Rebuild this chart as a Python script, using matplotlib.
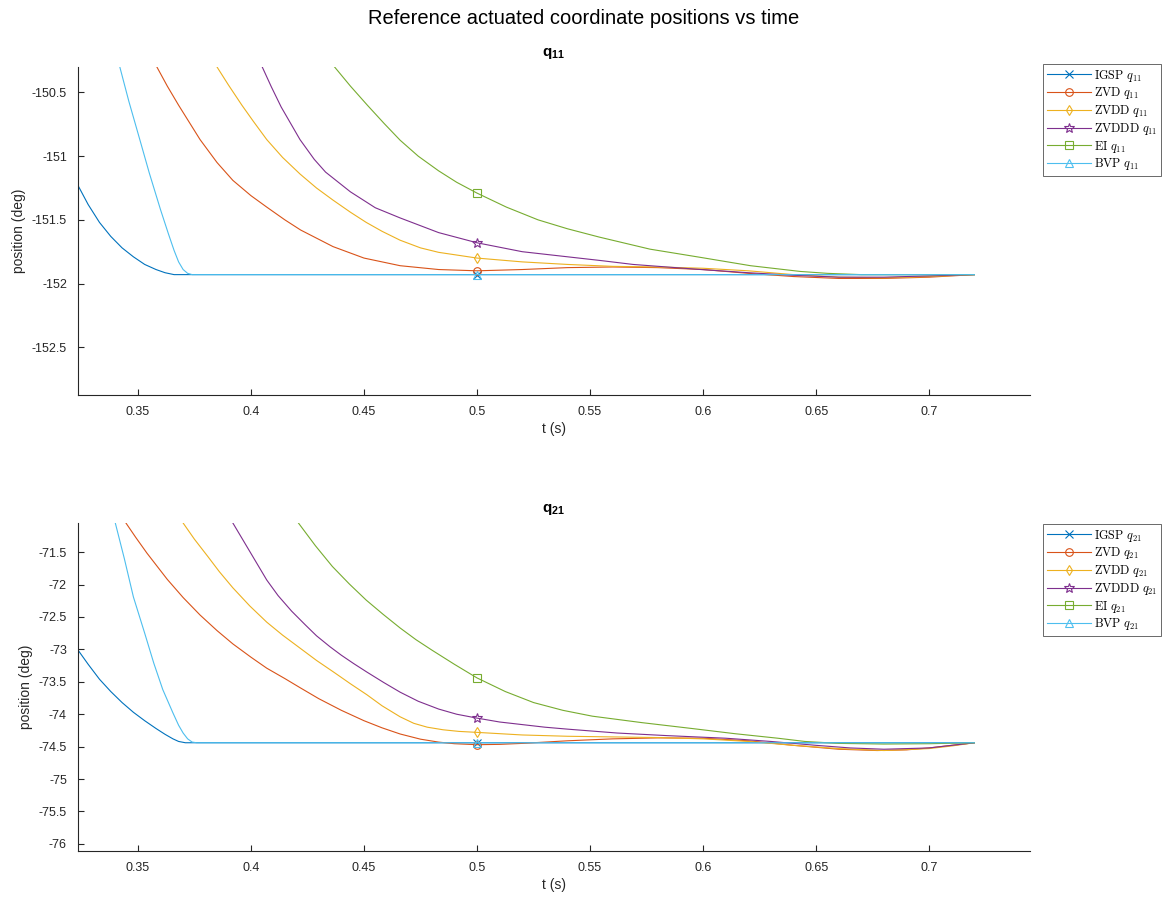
import matplotlib
matplotlib.use("Agg")
import matplotlib.pyplot as plt
from matplotlib.font_manager import FontProperties
from matplotlib.ticker import FormatStrFormatter

plt.rcParams['font.family'] = ['Liberation Sans', 'DejaVu Sans']
plt.rcParams['axes.unicode_minus'] = False
plt.rcParams['mathtext.fontset'] = 'custom'
plt.rcParams['mathtext.rm'] = 'Liberation Sans'
plt.rcParams['mathtext.it'] = 'Liberation Sans:italic'
plt.rcParams['mathtext.bf'] = 'Liberation Sans:bold'

# ---------------- data: q11 (top) ----------------
q11_igsp_t = [0.3235, 0.328, 0.333, 0.338, 0.343, 0.348, 0.353, 0.358, 0.362, 0.366, 0.40, 0.45, 0.50, 0.55, 0.60, 0.65, 0.72]
q11_igsp_y = [-151.23, -151.38, -151.52, -151.63, -151.72, -151.79, -151.85, -151.89, -151.915, -151.93, -151.93, -151.93, -151.93, -151.93, -151.93, -151.93, -151.93]

q11_zvd_t = [0.354, 0.3584, 0.363, 0.368, 0.3775, 0.385, 0.392, 0.40, 0.407, 0.415, 0.422, 0.4363, 0.45, 0.466, 0.483, 0.50, 0.52, 0.54, 0.56, 0.58, 0.60, 0.62, 0.64, 0.66, 0.68, 0.70, 0.72]
q11_zvd_y = [-150.17, -150.30, -150.45, -150.60, -150.87, -151.05, -151.19, -151.31, -151.40, -151.50, -151.58, -151.71, -151.80, -151.86, -151.89, -151.90, -151.89, -151.875, -151.87, -151.875, -151.89, -151.92, -151.945, -151.96, -151.96, -151.95, -151.93]

q11_zvdd_t = [0.381, 0.385, 0.390, 0.396, 0.401, 0.407, 0.414, 0.4217, 0.429, 0.4363, 0.444, 0.451, 0.458, 0.466, 0.475, 0.483, 0.50, 0.52, 0.54, 0.56, 0.58, 0.60, 0.62, 0.64, 0.66, 0.68, 0.70, 0.72]
q11_zvdd_y = [-150.17, -150.30, -150.44, -150.60, -150.725, -150.87, -151.01, -151.14, -151.25, -151.345, -151.44, -151.52, -151.59, -151.66, -151.72, -151.755, -151.80, -151.83, -151.85, -151.865, -151.87, -151.88, -151.90, -151.93, -151.95, -151.955, -151.945, -151.93]

q11_zvddd_t = [0.401, 0.405, 0.409, 0.4134, 0.4217, 0.428, 0.433, 0.444, 0.455, 0.466, 0.483, 0.50, 0.52, 0.54, 0.555, 0.569, 0.584, 0.599, 0.62, 0.64, 0.66, 0.68, 0.70, 0.72]
q11_zvddd_y = [-150.12, -150.30, -150.455, -150.615, -150.87, -151.025, -151.125, -151.28, -151.405, -151.485, -151.60, -151.68, -151.75, -151.79, -151.82, -151.85, -151.87, -151.89, -151.915, -151.935, -151.95, -151.95, -151.94, -151.93]

q11_ei_t = [0.433, 0.437, 0.444, 0.4515, 0.459, 0.466, 0.474, 0.483, 0.491, 0.50, 0.513, 0.527, 0.54, 0.554, 0.5765, 0.599, 0.621, 0.643, 0.655, 0.67, 0.69, 0.72]
q11_ei_y = [-150.21, -150.30, -150.45, -150.60, -150.745, -150.875, -151.00, -151.115, -151.205, -151.29, -151.40, -151.50, -151.57, -151.635, -151.73, -151.795, -151.86, -151.905, -151.92, -151.93, -151.93, -151.93]

q11_bvp_t = [0.340, 0.342, 0.346, 0.351, 0.355, 0.360, 0.3635, 0.366, 0.368, 0.370, 0.372, 0.374, 0.40, 0.45, 0.50, 0.55, 0.60, 0.65, 0.72]
q11_bvp_y = [-150.10, -150.30, -150.57, -150.88, -151.13, -151.42, -151.61, -151.74, -151.83, -151.89, -151.92, -151.93, -151.93, -151.93, -151.93, -151.93, -151.93, -151.93, -151.93]

# ---------------- data: q21 (bottom) ----------------
q21_igsp_t = [0.3235, 0.328, 0.333, 0.338, 0.343, 0.348, 0.353, 0.358, 0.362, 0.3655, 0.368, 0.371, 0.40, 0.45, 0.50, 0.55, 0.60, 0.65, 0.72]
q21_igsp_y = [-73.01, -73.23, -73.46, -73.65, -73.82, -73.97, -74.10, -74.22, -74.31, -74.38, -74.42, -74.44, -74.44, -74.44, -74.44, -74.44, -74.44, -74.44, -74.44]

q21_zvd_t = [0.341, 0.3447, 0.349, 0.354, 0.363, 0.370, 0.3775, 0.385, 0.392, 0.40, 0.407, 0.415, 0.4217, 0.43, 0.44, 0.45, 0.458, 0.466, 0.475, 0.483, 0.49, 0.50, 0.51, 0.52, 0.54, 0.56, 0.58, 0.60, 0.62, 0.64, 0.66, 0.677, 0.69, 0.70, 0.71, 0.72]
q21_zvd_y = [-70.86, -71.05, -71.27, -71.515, -71.92, -72.20, -72.47, -72.71, -72.915, -73.12, -73.29, -73.45, -73.59, -73.76, -73.94, -74.10, -74.21, -74.305, -74.385, -74.43, -74.455, -74.47, -74.465, -74.45, -74.41, -74.38, -74.365, -74.37, -74.41, -74.48, -74.54, -74.56, -74.55, -74.52, -74.48, -74.44]

q21_zvdd_t = [0.366, 0.370, 0.375, 0.381, 0.386, 0.392, 0.3995, 0.407, 0.414, 0.4217, 0.429, 0.437, 0.444, 0.4513, 0.458, 0.466, 0.472, 0.478, 0.485, 0.492, 0.50, 0.52, 0.54, 0.56, 0.58, 0.60, 0.62, 0.64, 0.66, 0.68, 0.70, 0.71, 0.72]
q21_zvdd_y = [-70.86, -71.05, -71.30, -71.57, -71.80, -72.05, -72.33, -72.58, -72.78, -72.98, -73.17, -73.36, -73.53, -73.70, -73.87, -74.04, -74.14, -74.20, -74.24, -74.265, -74.28, -74.32, -74.34, -74.35, -74.36, -74.38, -74.42, -74.48, -74.53, -74.56, -74.53, -74.49, -74.44]

q21_zvddd_t = [0.388, 0.392, 0.3995, 0.407, 0.412, 0.418, 0.424, 0.429, 0.435, 0.44, 0.4455, 0.4513, 0.4587, 0.466, 0.474, 0.483, 0.491, 0.50, 0.51, 0.52, 0.53, 0.54, 0.562, 0.584, 0.61, 0.63, 0.65, 0.665, 0.68, 0.70, 0.71, 0.72]
q21_zvddd_y = [-70.80, -71.05, -71.49, -71.93, -72.17, -72.41, -72.62, -72.79, -72.96, -73.09, -73.22, -73.35, -73.51, -73.66, -73.80, -73.92, -74.00, -74.06, -74.12, -74.16, -74.20, -74.23, -74.29, -74.33, -74.37, -74.42, -74.48, -74.52, -74.54, -74.52, -74.48, -74.44]

q21_ei_t = [0.417, 0.421, 0.4285, 0.436, 0.4435, 0.451, 0.4585, 0.466, 0.473, 0.48, 0.49, 0.50, 0.5125, 0.525, 0.538, 0.551, 0.573, 0.595, 0.614, 0.633, 0.645, 0.66, 0.68, 0.70, 0.72]
q21_ei_y = [-70.83, -71.05, -71.40, -71.72, -71.99, -72.24, -72.46, -72.67, -72.85, -73.01, -73.23, -73.44, -73.65, -73.82, -73.94, -74.03, -74.13, -74.22, -74.30, -74.37, -74.42, -74.45, -74.46, -74.455, -74.44]

q21_bvp_t = [0.338, 0.340, 0.344, 0.348, 0.353, 0.357, 0.361, 0.3655, 0.368, 0.370, 0.372, 0.374, 0.376, 0.40, 0.45, 0.50, 0.55, 0.60, 0.65, 0.72]
q21_bvp_y = [-70.70, -71.05, -71.60, -72.19, -72.75, -73.21, -73.62, -73.98, -74.17, -74.29, -74.38, -74.43, -74.44, -74.44, -74.44, -74.44, -74.44, -74.44, -74.44, -74.44]

method_names = ['IGSP', 'ZVD', 'ZVDD', 'ZVDDD', 'EI', 'BVP']
method_colors = ['#0072BD', '#D95319', '#EDB120', '#7E2F8E', '#77AC30', '#4DBEEE']
method_markers = ['x', 'o', 'd', '*', 's', '^']
marker_time = 0.5

top_series = [(q11_igsp_t, q11_igsp_y), (q11_zvd_t, q11_zvd_y), (q11_zvdd_t, q11_zvdd_y),
              (q11_zvddd_t, q11_zvddd_y), (q11_ei_t, q11_ei_y), (q11_bvp_t, q11_bvp_y)]
bot_series = [(q21_igsp_t, q21_igsp_y), (q21_zvd_t, q21_zvd_y), (q21_zvdd_t, q21_zvdd_y),
              (q21_zvddd_t, q21_zvddd_y), (q21_ei_t, q21_ei_y), (q21_bvp_t, q21_bvp_y)]

x_ticks = [0.35, 0.40, 0.45, 0.50, 0.55, 0.60, 0.65, 0.70]
top_yticks = [-152.5, -152.0, -151.5, -151.0, -150.5]
bot_yticks = [-76, -75.5, -75, -74.5, -74, -73.5, -73, -72.5, -72, -71.5]

fig = plt.figure(figsize=(11.67, 9.01), dpi=100)
W, H = 1167, 901
def axrect(l, t, r, b):
    return [l / W, 1 - b / H, (r - l) / W, (b - t) / H]

ax1 = fig.add_axes(axrect(78, 67, 1030, 395))
ax2 = fig.add_axes(axrect(78, 523, 1030, 851))

axis_col = '#262626'
leg_prop = FontProperties(family='DejaVu Serif', size=8.8, math_fontfamily='cm')

def draw(ax, series, sub, ylim, yticks, legend_top):
    handles = []
    for (t, y), name, col, mk in zip(series, method_names, method_colors, method_markers):
        idx = [i for i, v in enumerate(t) if abs(v - marker_time) < 1e-9]
        ms = 7 if mk == '*' else 5.5
        h, = ax.plot(t, y, color=col, lw=0.8, marker=mk, markevery=idx, ms=ms,
                     mfc='none', mec=col, mew=0.8,
                     label=r'$\mathrm{%s}\ q_{%s}$' % (name, sub))
        handles.append(h)
    ax.set_xlim(0.3235, 0.7446)
    ax.set_ylim(*ylim)
    ax.set_xticks(x_ticks)
    ax.set_yticks(yticks)
    ax.xaxis.set_major_formatter(FormatStrFormatter('%g'))
    ax.yaxis.set_major_formatter(FormatStrFormatter('%g'))
    for s in ['top', 'right']:
        ax.spines[s].set_visible(False)
    for s in ['left', 'bottom']:
        ax.spines[s].set_color(axis_col)
        ax.spines[s].set_linewidth(0.8)
    ax.tick_params(direction='in', length=4, width=0.8, color=axis_col,
                   labelsize=9, labelcolor=axis_col, pad=8)
    ax.set_xlabel('t (s)', fontsize=10, color=axis_col, labelpad=3)
    ax.set_ylabel('position (deg)', fontsize=10, color=axis_col, labelpad=4)
    ax.set_title(r'$\mathbf{q_{%s}}$' % sub, fontsize=11, pad=8, color='black')
    leg = ax.legend(handles=handles, loc='upper left',
                    bbox_to_anchor=(1043 / W, 1 - legend_top / H),
                    bbox_transform=fig.transFigure, borderaxespad=0,
                    prop=leg_prop, frameon=True, fancybox=False,
                    handlelength=3.6, handletextpad=0.25, labelspacing=0.14,
                    borderpad=0.3)
    leg.get_frame().set_edgecolor(axis_col)
    leg.get_frame().set_linewidth(0.6)

draw(ax1, top_series, '11', (-152.875, -150.30), top_yticks, 64)
draw(ax2, bot_series, '21', (-76.11, -71.05), bot_yticks, 524)

fig.suptitle('Reference actuated coordinate positions vs time', fontsize=14.5,
             y=1 - 18 / H, va='center', color='black')

fig.savefig('out.png', dpi=100)
